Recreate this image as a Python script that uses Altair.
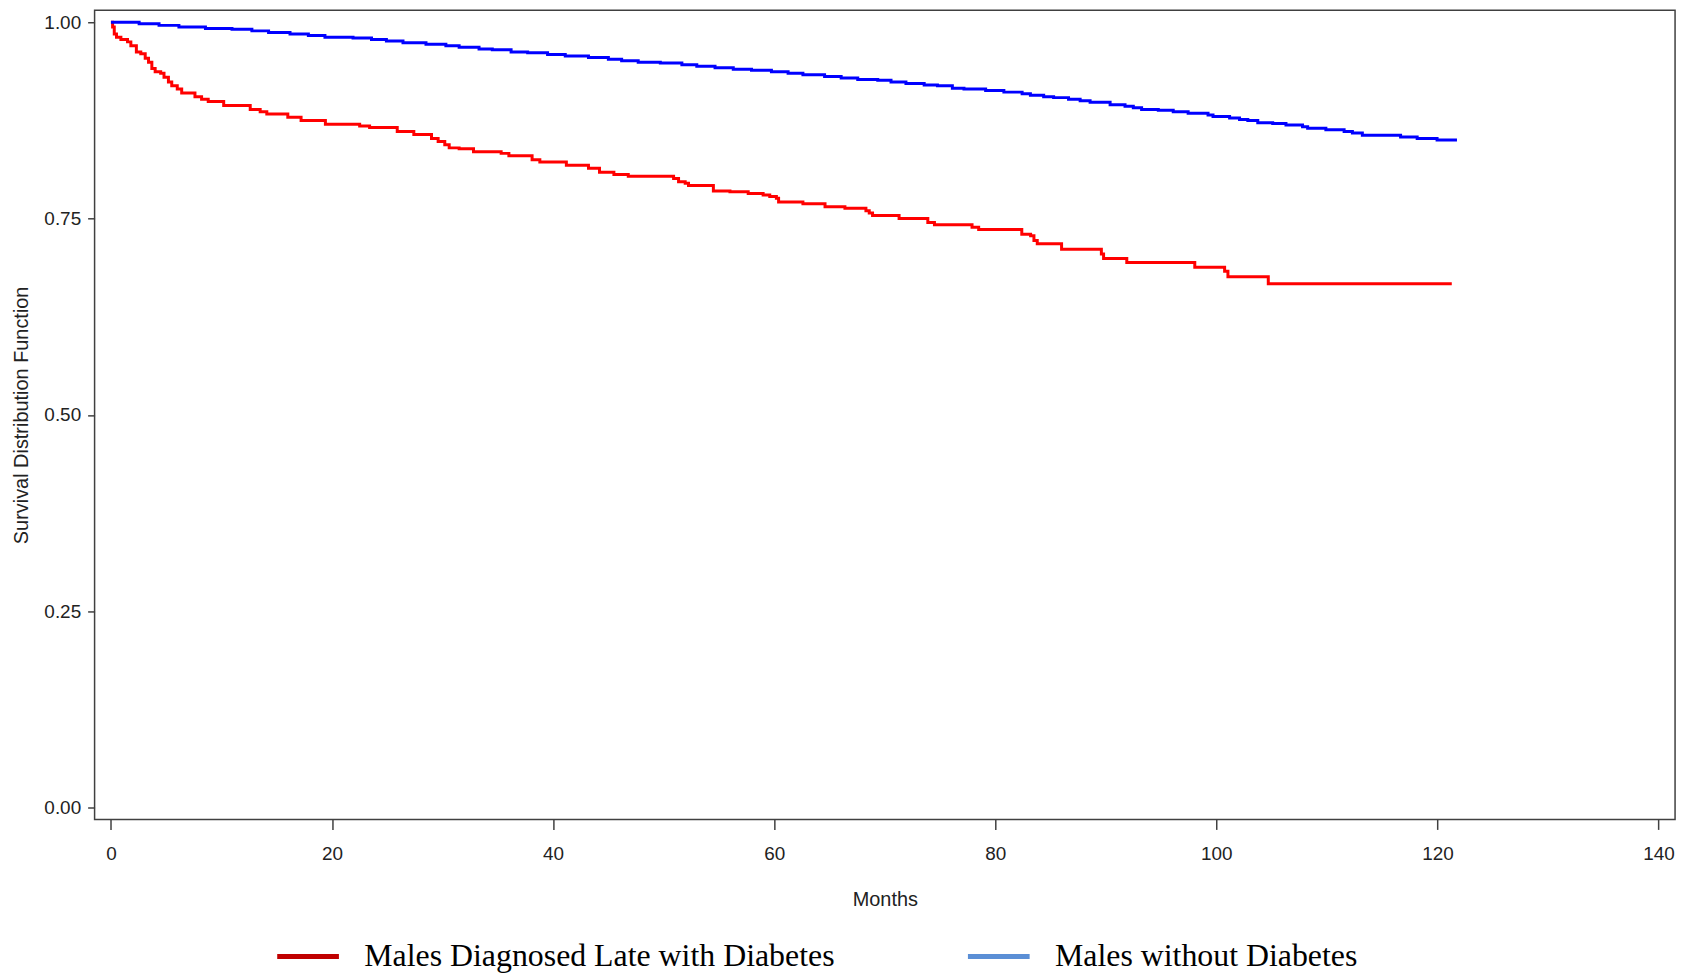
import altair as alt
import pandas as pd

red_name = "Males Diagnosed Late with Diabetes"
blue_name = "Males without Diabetes"

red_t = [0.0, 0.15, 0.3, 0.5, 0.9, 1.5, 1.8, 2.3, 2.7, 3.1, 3.4, 3.7, 4.0, 4.5, 4.8, 5.2, 5.5, 6.0, 6.4,
         7.6, 8.2, 8.8, 10.2, 12.6, 13.5, 14.1, 16.0, 17.2, 19.4, 22.5, 23.4, 25.9, 27.4, 29.0, 29.6,
         30.2, 30.6, 31.5, 32.8, 35.3, 36.0, 38.1, 38.8, 41.2, 43.2, 44.2, 45.5, 46.8, 50.9, 51.35,
         51.95, 52.25, 54.5, 56.0, 57.65, 59.0, 59.6, 60.2, 60.4, 62.6, 64.6, 66.4, 68.3, 68.6, 68.9,
         71.3, 73.9, 74.5, 77.9, 78.5, 82.4, 83.2, 83.5, 83.8, 86.0, 89.6, 89.8, 91.9, 98.05, 100.75,
         101.05, 104.7, 121.3]
red_s = [1.000, 0.994, 0.985, 0.981, 0.978, 0.975, 0.970, 0.962, 0.960, 0.954, 0.949, 0.941, 0.937,
         0.935, 0.930, 0.924, 0.919, 0.915, 0.910, 0.905, 0.902, 0.899, 0.894, 0.889, 0.886, 0.883,
         0.879, 0.875, 0.870, 0.868, 0.866, 0.861, 0.857, 0.852, 0.848, 0.844, 0.840, 0.839, 0.835,
         0.833, 0.830, 0.825, 0.822, 0.818, 0.814, 0.809, 0.806, 0.804, 0.801, 0.797, 0.795, 0.792,
         0.785, 0.784, 0.782, 0.780, 0.778, 0.776, 0.771, 0.769, 0.765, 0.763, 0.760, 0.757, 0.754,
         0.750, 0.745, 0.742, 0.739, 0.736, 0.730, 0.728, 0.722, 0.718, 0.711, 0.705, 0.699, 0.694,
         0.688, 0.683, 0.676, 0.667, 0.667]

blue_t = [0.0, 2.55, 4.35, 6.15, 8.55, 10.95, 12.75, 14.26, 16.2, 17.86, 19.36, 21.9, 23.57, 24.92,
          26.42, 28.5, 30.3, 31.5, 33.3, 34.5, 36.2, 37.7, 39.5, 41.1, 43.2, 45.0, 46.2, 47.7, 49.7,
          51.65, 53.0, 54.65, 56.3, 57.95, 59.75, 61.26, 62.6, 64.56, 66.06, 67.56, 69.37, 70.57,
          71.92, 73.57, 74.77, 76.12, 77.17, 79.13, 80.78, 82.43, 83.18, 84.38, 85.28, 86.63, 87.68,
          88.58, 90.39, 91.74, 92.49, 93.24, 94.75, 96.1, 97.45, 99.25, 99.7, 101.2, 102.1, 102.85,
          103.75, 105.1, 106.3, 107.8, 108.26, 109.91, 111.56, 112.31, 113.21, 116.67, 118.17,
          119.97, 121.77]
blue_s = [1.000, 0.998, 0.996, 0.994, 0.992, 0.991, 0.989, 0.987, 0.985, 0.983, 0.981, 0.980, 0.978,
          0.976, 0.974, 0.972, 0.970, 0.968, 0.966, 0.965, 0.962, 0.961, 0.959, 0.957, 0.955, 0.953,
          0.951, 0.949, 0.948, 0.946, 0.944, 0.942, 0.940, 0.939, 0.937, 0.935, 0.933, 0.931, 0.929,
          0.927, 0.926, 0.924, 0.922, 0.920, 0.919, 0.916, 0.915, 0.913, 0.911, 0.909, 0.907, 0.905,
          0.904, 0.902, 0.900, 0.898, 0.895, 0.893, 0.891, 0.889, 0.888, 0.886, 0.884, 0.882, 0.880,
          0.878, 0.876, 0.875, 0.872, 0.871, 0.869, 0.867, 0.865, 0.863, 0.861, 0.859, 0.856, 0.854,
          0.852, 0.850, 0.850]

x_ticks = [0, 20, 40, 60, 80, 100, 120, 140]
y_ticks = [0.0, 0.25, 0.5, 0.75, 1.0]

df = pd.concat([
    pd.DataFrame({"t": red_t, "s": red_s, "series": red_name, "order": range(len(red_t))}),
    pd.DataFrame({"t": blue_t, "s": blue_s, "series": blue_name, "order": range(len(blue_t))}),
])

x_enc = alt.X("t:Q", title="Months",
              scale=alt.Scale(domain=[-1.48, 141.5], nice=False, zero=False),
              axis=alt.Axis(values=x_ticks, format="d", tickSize=10, labelPadding=15,
                            titlePadding=26))
y_enc = alt.Y("s:Q", title="Survival Distribution Function",
              scale=alt.Scale(domain=[-0.0152, 1.0152], nice=False, zero=False),
              axis=alt.Axis(values=y_ticks, format=".2f", tickSize=7, labelPadding=7,
                            titlePadding=12))

# curve colours (no legend)
lines = alt.Chart(df).mark_line(interpolate="step-after", strokeWidth=3).encode(
    x=x_enc, y=y_enc,
    color=alt.Color("series:N",
                    scale=alt.Scale(domain=[blue_name, red_name], range=["#0000FF", "#FF0000"]),
                    legend=None),
    order="order:Q",
)

# legend (its own colour scale, as in the reference key)
legend_layer = alt.Chart(df).mark_point(filled=False, strokeWidth=5, opacity=1).encode(
    x="t:Q", y="s:Q",
    stroke=alt.Stroke("series:N",
                      scale=alt.Scale(domain=[red_name, blue_name], range=["#C00000", "#5B8FD6"]),
                      legend=alt.Legend(title=None, orient="none", legendX=181, legendY=917,
                                        direction="horizontal", symbolType="stroke",
                                        symbolSize=3844, symbolStrokeWidth=5, symbolOpacity=1,
                                        labelFont="Liberation Serif", labelFontSize=32,
                                        labelColor="#000000", labelOffset=23, columnPadding=123,
                                        padding=0, labelLimit=1000)),
).transform_filter("datum.t < -1000")

chart = alt.layer(lines, legend_layer).properties(
    width=1588, height=813,
    autosize=alt.AutoSizeParams(type="none"),
    padding={"left": 87, "top": 0, "right": 13, "bottom": 158},
).configure_view(
    stroke="#404040", strokeWidth=1.5
).configure_axis(
    grid=False, domain=False, tickColor="#404040", tickWidth=1.5,
    labelFont="Liberation Sans", labelFontSize=19, labelColor="#222222",
    titleFont="Liberation Sans", titleFontSize=20, titleFontWeight="normal", titleColor="#222222",
)

chart.save("out.html", embed_options={"renderer": "svg", "actions": False})
